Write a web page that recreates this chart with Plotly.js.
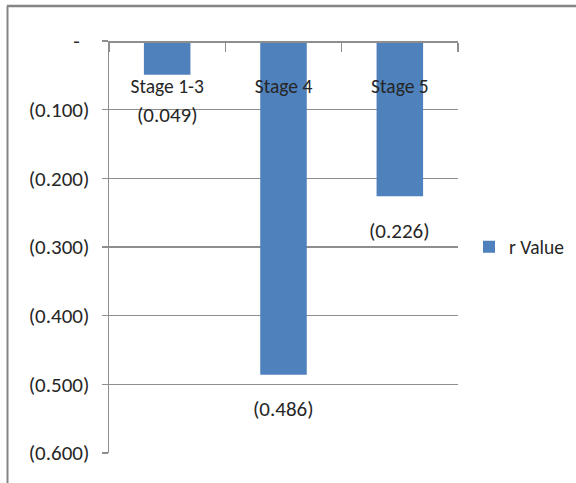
<!DOCTYPE html>
<html>
<head>
<meta charset="utf-8">
<script src="https://cdn.plot.ly/plotly-3.0.1.min.js"></script>
<style>
  html, body { margin: 0; padding: 0; background: #ffffff; }
  #chart { width: 576px; height: 483px; }
</style>
</head>
<body>
<div id="chart"></div>
<script>
// ---- data ----
const categories = ["Stage 1-3", "Stage 4", "Stage 5"];
const rValues = [-0.049, -0.486, -0.226];
const seriesName = "r Value";
const yTickVals = [0, -0.1, -0.2, -0.3, -0.4, -0.5, -0.6];
const yTickText = ["-&nbsp;&nbsp;", "(0.100)", "(0.200)", "(0.300)", "(0.400)", "(0.500)", "(0.600)"];

// ---- styling ----
const FONT = "Carlito, Calibri, 'Roboto Condensed', sans-serif";
const FS_NUM = 21;
const FS_TXT = 19.5;
const TXT = "#262626";
const GRID = "#8e8e8e";
const BAR = "#4F81BD";
const labelShift = [-40, -34, -35];

function fmt(v) {
  const s = Math.abs(v).toFixed(3);
  return v < 0 ? "(" + s + ")" : s;
}

const W = 576, H = 483;
const M = { l: 109, r: 118, t: 41, b: 30, autoexpand: false };
const pw = W - M.l - M.r, ph = H - M.t - M.b;
const px = x => (x - M.l) / pw;
const py = y => (H - M.b - y) / ph;

const trace = {
  type: "bar",
  x: categories,
  y: rValues,
  name: seriesName,
  marker: { color: BAR },
  showlegend: true,
  hoverinfo: "none"
};

const annotations = categories.map((c, i) => ({
  x: c, y: rValues[i], xref: "x", yref: "y",
  text: fmt(rValues[i]),
  showarrow: false,
  yshift: labelShift[i],
  font: { family: FONT, size: FS_NUM, color: TXT }
}));

const layout = {
  width: W, height: H,
  margin: M,
  paper_bgcolor: "#ffffff",
  plot_bgcolor: "#ffffff",
  bargap: 0.6,
  font: { family: FONT, size: FS_NUM, color: TXT },
  xaxis: {
    type: "category",
    anchor: "free",
    position: 1,
    side: "bottom",
    automargin: false,
    showline: true, linecolor: GRID, linewidth: 1.5,
    ticks: "outside", tickson: "boundaries", ticklen: 9, tickcolor: GRID, tickwidth: 1.5,
    ticklabelstandoff: 27,
    showgrid: false,
    zeroline: false,
    tickfont: { family: FONT, size: FS_TXT, color: TXT }
  },
  yaxis: {
    range: [-0.6, 0],
    automargin: false,
    tickmode: "array",
    tickvals: yTickVals,
    ticktext: yTickText,
    showline: true, linecolor: GRID, linewidth: 1.5,
    ticks: "outside", ticklen: 6, tickcolor: GRID, tickwidth: 1.5,
    ticklabelstandoff: 8,
    showgrid: true, gridcolor: GRID, gridwidth: 1.5,
    zeroline: false,
    tickfont: { family: FONT, size: FS_NUM, color: TXT }
  },
  legend: {
    x: px(469), y: py(247), xanchor: "left", yanchor: "middle",
    font: { family: FONT, size: FS_TXT, color: TXT },
    itemwidth: 30,
    bgcolor: "rgba(0,0,0,0)", borderwidth: 0
  },
  annotations: annotations,
  shapes: [
    { type: "line", xref: "paper", yref: "paper", x0: px(7), x1: px(580), y0: py(6), y1: py(6),
      line: { color: "#858585", width: 2.5 } },
    { type: "line", xref: "paper", yref: "paper", x0: px(7.5), x1: px(7.5), y0: py(6), y1: py(490),
      line: { color: "#858585", width: 2 } }
  ]
};

Plotly.newPlot("chart", [trace], layout, { displayModeBar: false, staticPlot: true });
</script>
</body>
</html>
